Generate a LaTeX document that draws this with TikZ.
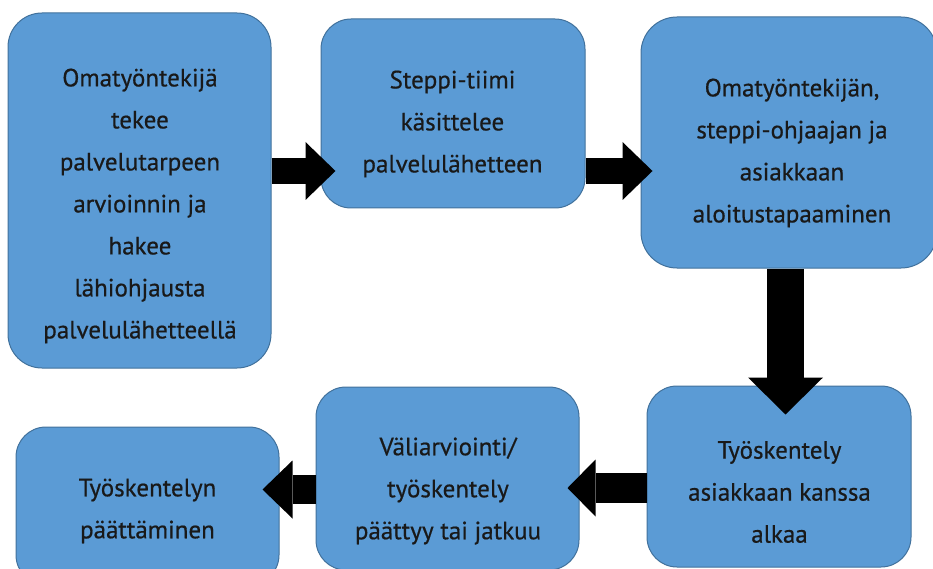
\documentclass[tikz,border=0pt]{standalone}
\usepackage{fontspec}
\setmainfont{PT Sans}
\newfontfamily\boxfont[FakeBold=0.6]{PT Sans}
\usetikzlibrary{arrows.meta}
\definecolor{boxfill}{HTML}{5B9BD5}
\definecolor{boxline}{HTML}{41719C}
\tikzset{
  stepbox/.style={draw=boxline, line width=1pt, fill=boxfill, rounded corners=#1, inner sep=0pt},
  stepbox/.default=34pt,
  txt/.style={align=center, font=\boxfont\fontsize{25}{42}\selectfont, text=black!90, inner sep=0pt},
  blockarrow/.style={line width=#1, -{Triangle[length=30pt,width=58pt,line width=0pt]}},
}
\begin{document}
\begin{tikzpicture}[x=1pt,y=-1pt]
\useasboundingbox (0,0) rectangle (933,569);
\clip (0,0) rectangle (933,569);
% boxes
\node[stepbox, minimum width=263pt, minimum height=355pt] (b1) at (139.5,190.5) {};
\node[stepbox=30pt, minimum width=264pt, minimum height=189pt] (b2) at (453,113.5) {};
\node[stepbox=36pt, minimum width=296pt, minimum height=251pt] (b3) at (789,142.5) {};
\node[stepbox=30pt, minimum width=264pt, minimum height=181pt] (b4) at (779,476.5) {};
\node[stepbox=30pt, minimum width=263pt, minimum height=183pt] (b5) at (447.5,478.5) {};
\node[stepbox=30pt, minimum width=263pt, minimum height=158pt] (b6) at (147.5,506) {};
% texts
\node[txt] (t1) at (140,206) {Omatyöntekijä\\tekee\\palvelutarpeen\\arvioinnin ja\\hakee\\lähiohjausta\\palvelulähetteellä};
\node[txt] (t2) at (452.5,124) {Steppi-tiimi\\käsittelee\\palvelulähetteen};
\node[txt] (t3) at (792,153) {Omatyöntekijän,\\steppi-ohjaajan ja\\asiakkaan\\aloitustapaaminen};
\node[txt] (t4) at (779.5,492) {Työskentely\\asiakkaan kanssa\\alkaa};
\node[txt] (t5) at (448,491) {Väliarviointi/\\työskentely\\päättyy tai jatkuu};
\node[txt] (t6) at (147.5,511) {Työskentelyn\\päättäminen};
% arrows
\draw[blockarrow=26pt, shorten >=-15pt] (b1.east |- 0,171) -- (b2.west |- 0,171);
\draw[blockarrow=26pt, shorten >=-12pt] (b2.east |- 0,171) -- (b3.west |- 0,171);
\draw[line width=37pt, -{Triangle[length=37pt,width=75pt,line width=0pt]}, shorten >=-29pt] (b3.south -| 785.5,0) -- (b4.north -| 785.5,0);
\draw[blockarrow=30pt, -{Triangle[length=28pt,width=57pt,line width=0pt]}, shorten >=-12pt] (b4.west |- 0,488) -- (b5.east |- 0,488);
\draw[blockarrow=29pt, shorten >=-17pt] (b5.west |- 0,489.5) -- (b6.east |- 0,489.5);
\end{tikzpicture}
\end{document}
